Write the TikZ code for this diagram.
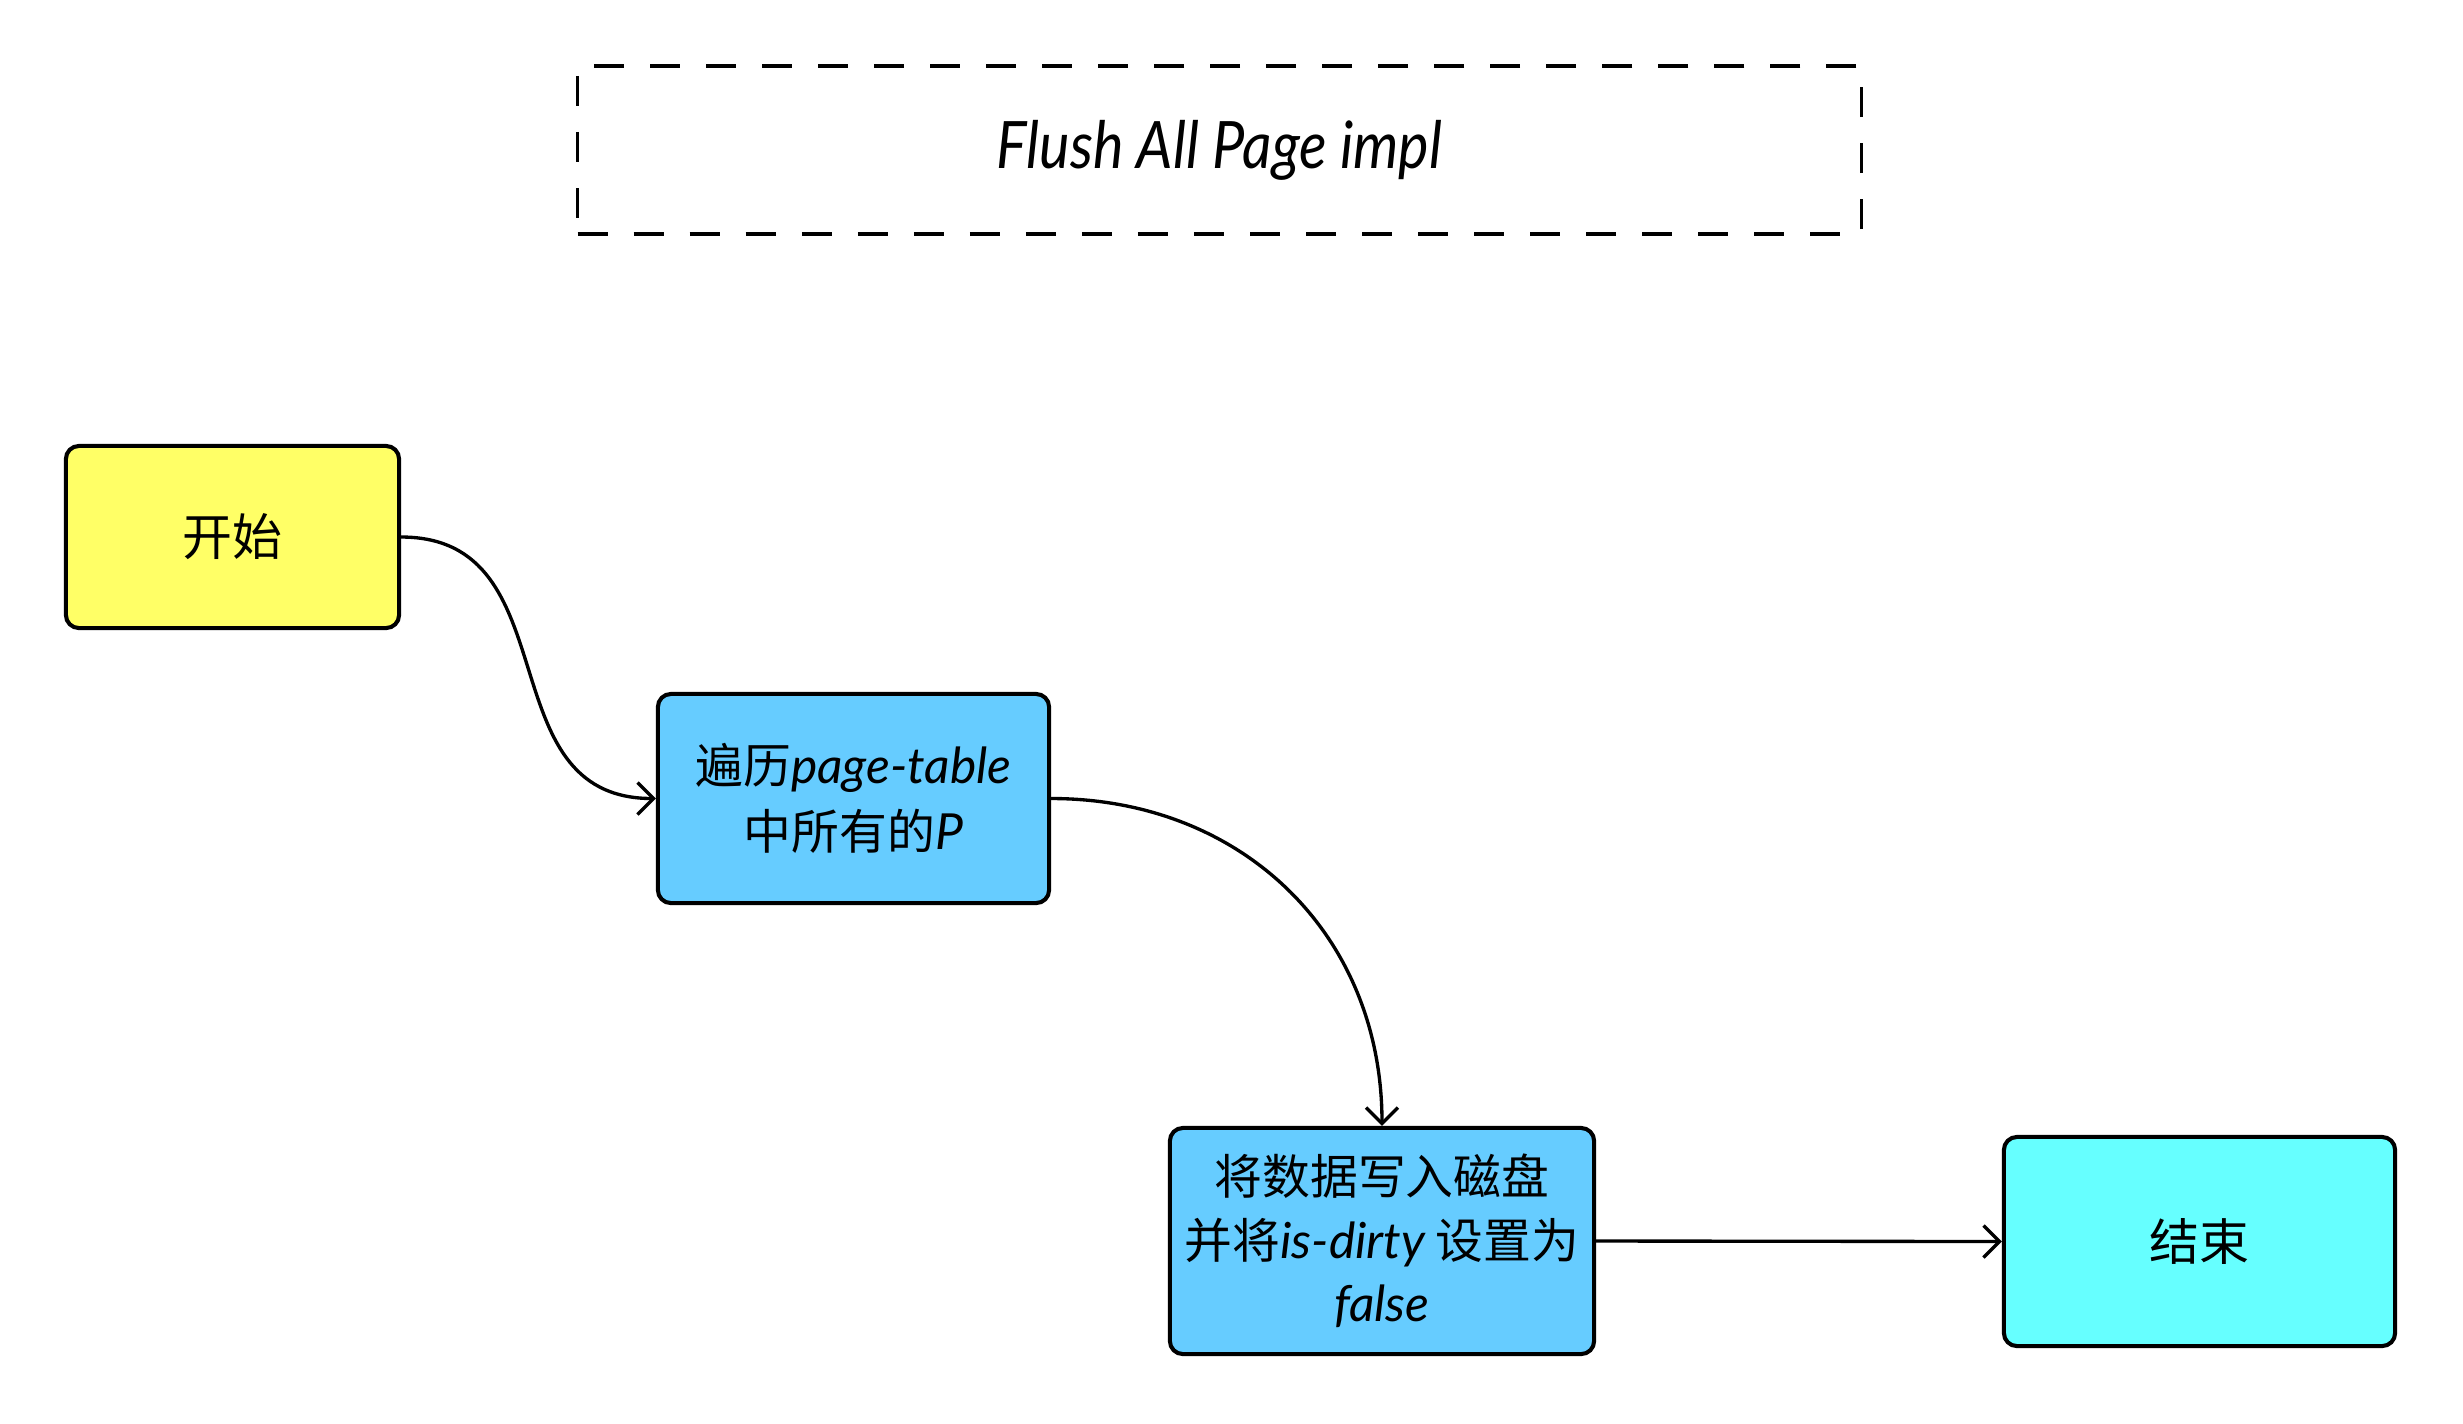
\documentclass[tikz,border=0pt]{standalone}
\usepackage{fontspec}
\setmainfont{Lato}
\newfontfamily\cjk{Noto Sans CJK SC}
\newfontfamily\titlefont[FakeStretch=0.88]{Lato Italic}
\newfontfamily\latit[Scale=1.04]{Lato Italic}
\usetikzlibrary{arrows.meta}
\definecolor{startyellow}{HTML}{FFFF66}
\definecolor{procblue}{HTML}{66CCFF}
\definecolor{endcyan}{HTML}{66FFFF}
\newcommand{\latw}[1]{{\latit #1}}
\tikzset{
  box/.style={draw=black, line width=1.15pt, rounded corners=0.13cm, align=center, inner sep=0pt,
    font=\cjk\fontsize{13.6}{18}\selectfont},
  conn/.style={line width=0.95pt, -{Straight Barb[length=0.16cm,width=0.32cm,line width=0.95pt]}},
}
\begin{document}
\begin{tikzpicture}[x=0.01cm,y=-0.01cm]
\useasboundingbox[fill=white] (0,0) rectangle (2463,1423);
\node[draw=black, line width=0.95pt, dash pattern=on 0.3cm off 0.26cm, minimum width=12.83cm, minimum height=1.68cm, inner sep=0pt,
  font=\titlefont\fontsize{18.6}{20}\selectfont] (title) at (1219.5,150) {Flush All Page impl};
\node[box, fill=startyellow, minimum width=3.33cm, minimum height=1.82cm, font=\cjk\fontsize{14.2}{18}\selectfont] (start) at (232.5,537) {开始};
\node[box, fill=procblue, minimum width=3.91cm, minimum height=2.09cm, font=\cjk\fontsize{13.6}{18.8}\selectfont] (iter) at (853.5,798.5) {遍历\latw{page-table}\\中所有的\latw{P}};
\node[box, fill=procblue, minimum width=4.24cm, minimum height=2.26cm] (write) at (1382,1241) {将数据写入磁盘\\并将\latw{is-dirty} 设置为\\\latw{false}};
\node[box, fill=endcyan, minimum width=3.91cm, minimum height=2.09cm, font=\cjk\fontsize{14.2}{18}\selectfont] (end) at (2199.5,1241.5) {结束};
\draw[conn] (start.east) to[out=0,in=180,looseness=1.2] (iter.west);
\draw[conn] (iter.east) to[out=0,in=90,looseness=1.05] (write.north);
\draw[conn] (write.east) -- (end.west);
\end{tikzpicture}
\end{document}
